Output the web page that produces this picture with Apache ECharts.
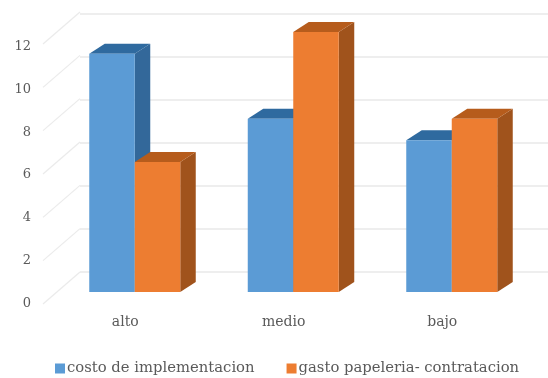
<!DOCTYPE html>
<html>
<head>
<meta charset="utf-8">
<style>html,body{margin:0;padding:0;background:#fff}#chart{width:548px;height:378px}</style>
<script src="https://cdn.jsdelivr.net/npm/echarts@6/dist/echarts.min.js"></script>
</head>
<body>
<div id="chart"></div>
<script>
const categories = ['alto', 'medio', 'bajo'];
const costoImplementacion = [11, 8, 7];
const gastoPapeleria = [6, 12, 8];
const yTicks = [0, 2, 4, 6, 8, 10, 12];

const FONT = '"DejaVu Serif", serif';
const TEXT = '#5a5a5a';
// Box depth projected on screen, and where a bar sits inside the floor depth
const BAR_DEPTH = [15.5, -10];
const FLOOR_INSET = [12.5, -12];
const WALL_DEPTH = [37, -32];
const BAR_WIDTH = 45.5;

function bar3d(color, sideColor, topColor, side) {
  return function (params, api) {
    const cat = api.value(0);
    const top = api.coord([cat, api.value(1)]);
    const base = api.coord([cat, 0]);
    const x0 = top[0] + FLOOR_INSET[0] + (side < 0 ? -BAR_WIDTH : 0);
    const x1 = x0 + BAR_WIDTH;
    const yT = top[1] + FLOOR_INSET[1];
    const yB = base[1] + FLOOR_INSET[1];
    const dx = BAR_DEPTH[0], dy = BAR_DEPTH[1];
    const poly = (points, fill) => ({
      type: 'polygon',
      shape: { points },
      style: { fill }
    });
    return {
      type: 'group',
      children: [
        poly([[x1, yT], [x1 + dx, yT + dy], [x1 + dx, yB + dy], [x1, yB]], sideColor),
        poly([[x0, yT], [x0 + dx, yT + dy], [x1 + dx, yT + dy], [x1, yT]], topColor),
        poly([[x0, yT], [x1, yT], [x1, yB], [x0, yB]], color)
      ]
    };
  };
}

// Diagonal strokes on the left wall, one per tick
function wallLine(params, api) {
  const p = api.coord([0, api.value(0)]);
  const x = p[0] - api.size([1, 0])[0] / 2;
  return {
    type: 'line',
    shape: { x1: x, y1: p[1], x2: x + WALL_DEPTH[0], y2: p[1] + WALL_DEPTH[1] },
    style: { stroke: '#ebebeb', lineWidth: 1.2 }
  };
}

const hiddenAxis = {
  axisLine: { show: false }, axisTick: { show: false }, axisLabel: { show: false }
};

const chart = echarts.init(document.getElementById('chart'), null, { renderer: 'canvas' });
chart.setOption({
  animation: false,
  backgroundColor: '#ffffff',
  // Front plane of the floor, back wall, and the tick label column
  grid: [
    { left: 43, width: 475.5, top: 44, height: 260 },
    { left: 80, width: 475.5, top: 14, height: 258 },
    { left: 43, width: 475.5, top: 46.5, height: 257 }
  ],
  xAxis: [
    {
      type: 'category', gridIndex: 0, data: categories,
      axisLine: { show: false }, axisTick: { show: false },
      axisLabel: { color: TEXT, fontFamily: FONT, fontSize: 14, margin: 11, padding: [0, 0, 0, 6] }
    },
    { type: 'category', gridIndex: 1, data: categories, ...hiddenAxis },
    { type: 'category', gridIndex: 2, data: categories, ...hiddenAxis }
  ],
  yAxis: [
    {
      type: 'value', gridIndex: 0, min: 0, max: 12, interval: 2,
      splitLine: { show: false }, ...hiddenAxis
    },
    {
      type: 'value', gridIndex: 1, min: 0, max: 12, interval: 2, ...hiddenAxis,
      splitLine: { lineStyle: { color: '#e9e9e9', width: 1.5 } }
    },
    {
      type: 'value', gridIndex: 2, min: 0, max: 12, interval: 2,
      axisLine: { show: false }, axisTick: { show: false },
      splitLine: { show: false },
      axisLabel: { color: TEXT, fontFamily: FONT, fontSize: 13, margin: 12 }
    }
  ],
  legend: {
    top: 356, left: 50, itemGap: 32, itemWidth: 10, itemHeight: 10,
    icon: 'rect',
    data: ['costo de implementacion', 'gasto papeleria- contratacion'],
    textStyle: { color: TEXT, fontFamily: FONT, fontSize: 14.8, padding: [0, 0, 0, -3] }
  },
  series: [
    {
      type: 'custom', silent: true, xAxisIndex: 0, yAxisIndex: 0,
      encode: { y: 0 }, renderItem: wallLine, data: yTicks.map(v => [v]), z: 1,
      legendHoverLink: false
    },
    {
      name: 'costo de implementacion', type: 'custom', xAxisIndex: 0, yAxisIndex: 0,
      itemStyle: { color: '#5b9bd5' },
      encode: { x: 0, y: 1 }, z: 2,
      renderItem: bar3d('#5b9bd5', '#33689a', '#2f6a9f', -1),
      data: costoImplementacion.map((v, i) => [i, v])
    },
    {
      name: 'gasto papeleria- contratacion', type: 'custom', xAxisIndex: 0, yAxisIndex: 0,
      itemStyle: { color: '#ed7d31' },
      encode: { x: 0, y: 1 }, z: 3,
      renderItem: bar3d('#ed7d31', '#a0531c', '#b65c1c', 1),
      data: gastoPapeleria.map((v, i) => [i, v])
    }
  ]
});
</script>
</body>
</html>
